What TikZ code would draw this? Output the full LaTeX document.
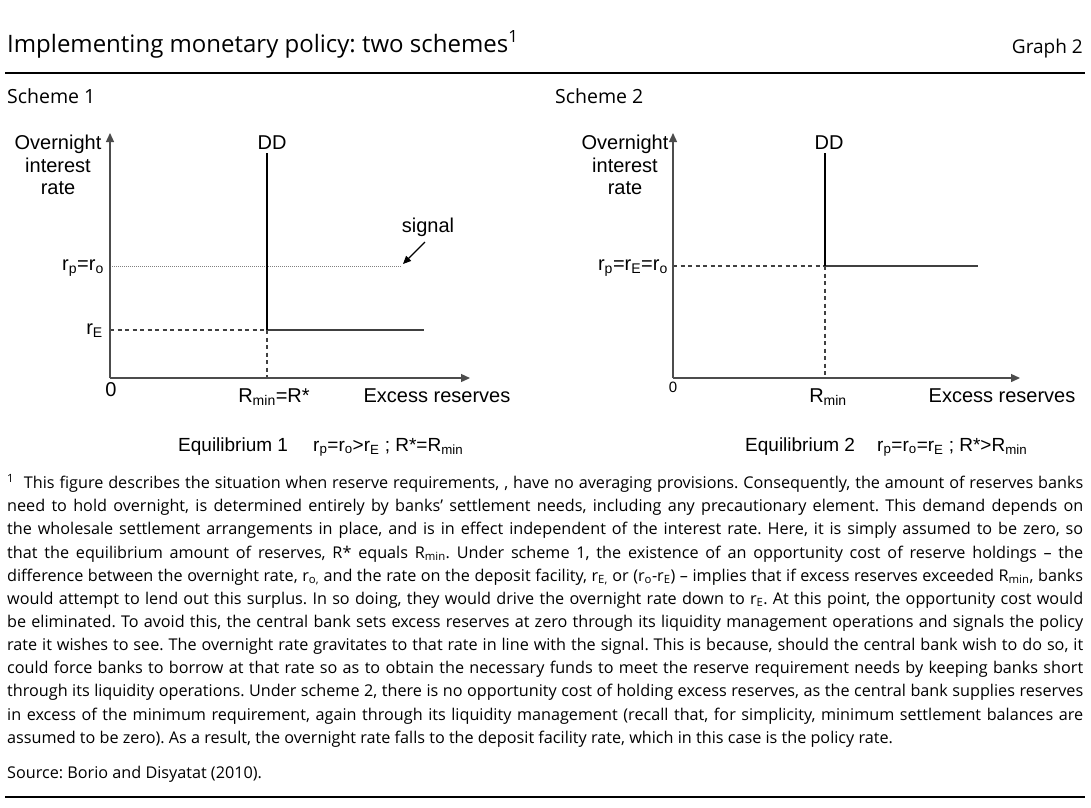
\documentclass[tikz,border=0pt]{standalone}
\usepackage{fontspec}
\setmainfont{Open Sans}
\newfontfamily\chartfont{Liberation Sans}
\usetikzlibrary{arrows.meta}
\newcommand{\sbx}[1]{\textsubscript{#1}}
\frenchspacing
\tikzset{
  axis/.style={draw=black!70, line width=1.3pt, -{Triangle[length=9pt,width=8pt]}},
  ddline/.style={draw=black, line width=1.3pt},
  supply/.style={draw=black!75, line width=1.2pt},
  dashline/.style={draw=black!75, line width=1.1pt, dash pattern=on 4pt off 3.5pt},
  dotline/.style={draw=black!50, line width=1pt, dash pattern=on 1pt off 1pt},
  clab/.style={font=\chartfont\fontsize{20}{22.5}\selectfont, inner sep=0pt},
  eqlab/.style={font=\chartfont\fontsize{19}{22}\selectfont, inner sep=0pt, anchor=base west},
  hdr/.style={inner sep=0pt, anchor=base west},
  rule/.style={draw=black, line width=1.2pt}
}
\begin{document}
\begin{tikzpicture}[x=1pt,y=-1pt]
\useasboundingbox[fill=white] (0,0) rectangle (1091,807);
% header
\node[hdr, font=\fontsize{24}{28}\selectfont] (title) at (7,52) {Implementing monetary policy: two schemes\textsuperscript{1}};
\node[inner sep=0pt, anchor=base east, font=\fontsize{19}{22}\selectfont] (graph) at (1083,53) {Graph 2};
\coordinate (rl1) at (5,73); \coordinate (rr1) at (1085,73);
\draw[rule] (rl1) -- (rr1);
\node[hdr, font=\fontsize{19.5}{22}\selectfont] (s1) at (7,103) {Scheme 1};
\node[hdr, font=\fontsize{19.5}{22}\selectfont] (s2) at (555,103) {Scheme 2};

% ---------- Scheme 1 chart ----------
\coordinate (o1) at (110,378);
\coordinate (y1) at (110,133);
\coordinate (x1) at (470,378);
\coordinate (ddtop1) at (267,153);
\coordinate (eq1) at (267,330);
\coordinate (sup1) at (424,330);
\coordinate (rE1) at (110,330);
\coordinate (rmin1) at (267,378);
\coordinate (rpl1) at (110,266);
\coordinate (rpr1) at (402,266);
\coordinate (sigs) at (425,242);
\coordinate (sige) at (403,264);
\draw[dotline] (rpl1) -- (rpr1);
\draw[dashline] (rE1) -- (eq1);
\draw[dashline] (eq1) -- (rmin1);
\draw[supply] (eq1) -- (sup1);
\draw[ddline] (ddtop1) -- (eq1);
\draw[axis] (o1) -- (y1);
\draw[axis] (o1) -- (x1);
\draw[draw=black, line width=1.1pt, -{Triangle[length=8pt,width=7pt]}] (sigs) -- (sige);
\node[clab, align=center] (ylab1) at (58,165) {Overnight\\interest\\rate};
\node[clab] (dd1) at (272,143) {DD};
\node[clab] (sig1) at (428,227) {signal};
\node[clab, anchor=east] (lrp1) at (104,268) {r\sbx{p}=r\sbx{o}};
\node[clab, anchor=east] (lrE1) at (103,331) {r\sbx{E}};
\node[clab] (zero1) at (111,390) {0};
\node[clab] (lrmin1) at (274,397) {R\sbx{min}=R*};
\node[clab] (xlab1) at (437,396) {Excess reserves};
\node[eqlab] (eqt1) at (178,451) {Equilibrium 1};
\node[eqlab] (eqf1) at (313,451) {r\sbx{p}=r\sbx{o}>r\sbx{E} ; R*=R\sbx{min}};

% ---------- Scheme 2 chart ----------
\coordinate (o2) at (673,378);
\coordinate (y2) at (673,133);
\coordinate (x2) at (1020,378);
\coordinate (ddtop2) at (825,153);
\coordinate (eq2) at (825,266);
\coordinate (sup2) at (978,266);
\coordinate (rp2) at (673,266);
\coordinate (rmin2) at (825,378);
\draw[dashline] (rp2) -- (eq2);
\draw[dashline] (eq2) -- (rmin2);
\draw[supply] (eq2) -- (sup2);
\draw[ddline] (ddtop2) -- (eq2);
\draw[axis] (o2) -- (y2);
\draw[axis] (o2) -- (x2);
\node[clab, align=center] (ylab2) at (625,165) {Overnight\\interest\\rate};
\node[clab] (dd2) at (829,143) {DD};
\node[clab, anchor=east] (lrp2) at (668,268) {r\sbx{p}=r\sbx{E}=r\sbx{o}};
\node[clab, font=\chartfont\fontsize{15}{17}\selectfont] (zero2) at (673,387) {0};
\node[clab] (lrmin2) at (828,397) {R\sbx{min}};
\node[clab] (xlab2) at (1002,396) {Excess reserves};
\node[eqlab] (eqt2) at (745,451) {Equilibrium 2};
\node[eqlab] (eqf2) at (877,451) {r\sbx{p}=r\sbx{o}=r\sbx{E} ; R*>R\sbx{min}};

% ---------- footnote ----------
\node[inner sep=0pt, anchor=north west, text width=1076pt, align=justify, font=\fontsize{16.2}{23.15}\selectfont] (fn) at (7,474) {%
\textsuperscript{1}\ \ This figure describes the situation when reserve requirements, , have no averaging provisions. Consequently, the amount of reserves banks\linebreak
need to hold overnight, is determined entirely by banks’ settlement needs, including any precautionary element. This demand depends on\linebreak
the wholesale settlement arrangements in place, and is in effect independent of the interest rate. Here, it is simply assumed to be zero, so\linebreak
that the equilibrium amount of reserves, R* equals R\sbx{min}. Under scheme 1, the existence of an opportunity cost of reserve holdings – the\linebreak
difference between the overnight rate, r\sbx{o,} and the rate on the deposit facility, r\sbx{E,} or (r\sbx{o}-r\sbx{E}) – implies that if excess reserves exceeded R\sbx{min}, banks\linebreak
would attempt to lend out this surplus. In so doing, they would drive the overnight rate down to r\sbx{E}. At this point, the opportunity cost would\linebreak
be eliminated. To avoid this, the central bank sets excess reserves at zero through its liquidity management operations and signals the policy\linebreak
rate it wishes to see. The overnight rate gravitates to that rate in line with the signal. This is because, should the central bank wish to do so, it\linebreak
could force banks to borrow at that rate so as to obtain the necessary funds to meet the reserve requirement needs by keeping banks short\linebreak
through its liquidity operations. Under scheme 2, there is no opportunity cost of holding excess reserves, as the central bank supplies reserves\linebreak
in excess of the minimum requirement, again through its liquidity management (recall that, for simplicity, minimum settlement balances are\linebreak
assumed to be zero). As a result, the overnight rate falls to the deposit facility rate, which in this case is the policy rate.};
\node[hdr, font=\fontsize{16.2}{20}\selectfont] (src) at (7,778) {Source: Borio and Disyatat (2010).};
\coordinate (rl2) at (5,797); \coordinate (rr2) at (1085,797);
\draw[rule] (rl2) -- (rr2);
\end{tikzpicture}
\end{document}
